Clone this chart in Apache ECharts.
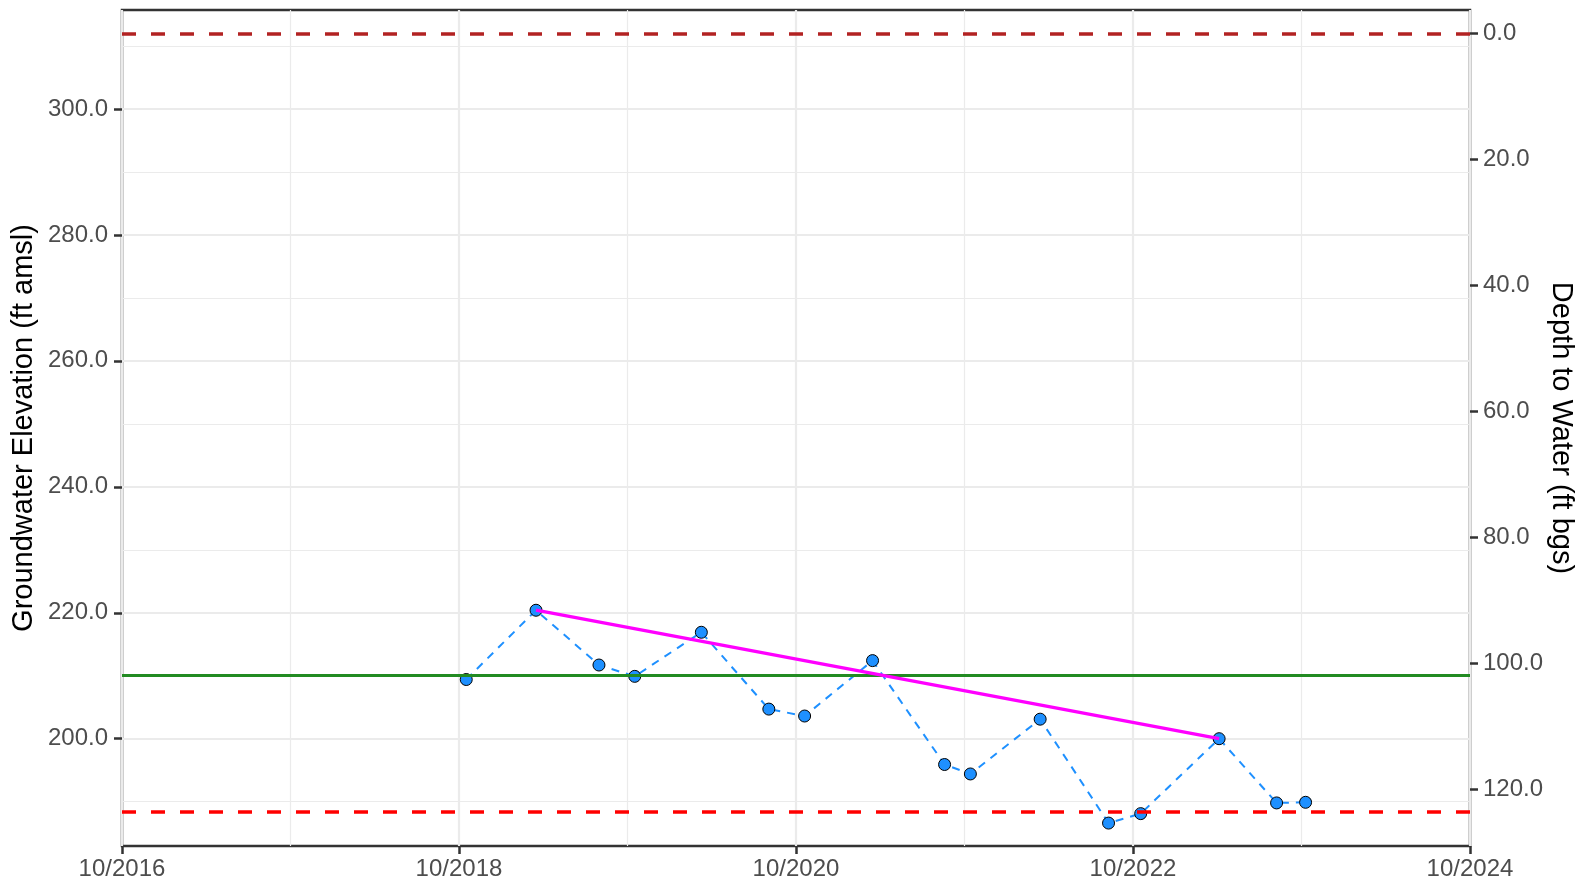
<!DOCTYPE html>
<html>
<head>
<meta charset="utf-8">
<script src="https://cdn.jsdelivr.net/npm/echarts@6/dist/echarts.min.js"></script>
<style>
  html, body { margin: 0; padding: 0; background: #fff; }
  #chart { width: 1579px; height: 886px; }
</style>
</head>
<body>
<div id="chart"></div>
<script>
// measured groundwater levels
const sampleDates = [
  '2018-10-17', '2019-03-16', '2019-07-31', '2019-10-17', '2020-03-09', '2020-08-03',
  '2020-10-20', '2021-03-15', '2021-08-19', '2021-10-14', '2022-03-13', '2022-08-09',
  '2022-10-18', '2023-04-05', '2023-08-08', '2023-10-10'
];
const elevations = [
  209.4, 220.4, 211.7, 209.9, 216.9, 204.7,
  203.6, 212.4, 195.9, 194.4, 203.1, 186.6,
  188.1, 200.0, 189.8, 189.9
];

// trend line (start / end)
const trendDates = ['2019-03-16', '2023-04-05'];
const trendValues = [220.4, 200.0];

// reference lines (ft amsl)
const groundSurface = 312.0;
const minThreshold = 188.4;
const objective = 210.0;

// axes
const elevMin = 182.96;
const elevMax = 315.72;
const elevTicks = [200, 220, 240, 260, 280, 300];
const depthTicks = [0, 20, 40, 60, 80, 100, 120];
const xTickLabels = ['10/2016', '10/2018', '10/2020', '10/2022', '10/2024'];

const FONT = '"Liberation Sans", Arial, sans-serif';
const LABEL_COLOR = '#4d4d4d';

// months since 10/2016
function toMonths(s) {
  const [y, m, d] = s.split('-').map(Number);
  const dim = new Date(y, m, 0).getDate();
  return (y - 2016) * 12 + (m - 10) + (d - 1) / dim;
}

const obsData = sampleDates.map((d, i) => [toMonths(d), elevations[i]]);
const trendData = trendDates.map((d, i) => [toMonths(d), trendValues[i]]);

const isStep = (v, step) => Math.abs(v / step - Math.round(v / step)) < 1e-6;

const chart = echarts.init(document.getElementById('chart'));

const tickStyle = { color: '#333333', width: 2.5 };

chart.setOption({
  animation: false,
  grid: {
    left: 122, right: 109, top: 10, bottom: 40,
    outerBoundsMode: 'none',
    containLabel: false,
    show: true,
    borderColor: '#333333',
    borderWidth: 2.5,
    backgroundColor: 'transparent'
  },
  xAxis: {
    type: 'value',
    min: 0,
    max: 96,
    interval: 24,
    axisLine: { show: false, onZero: false },
    axisTick: { show: true, length: 8, lineStyle: tickStyle },
    axisLabel: {
      margin: 11,
      fontFamily: FONT,
      fontSize: 24,
      color: LABEL_COLOR,
      formatter: v => xTickLabels[Math.round(v / 24)]
    },
    splitLine: { show: true, lineStyle: { color: '#ebebeb', width: 2.2 } },
    minorTick: { show: false, splitNumber: 2 },
    minorSplitLine: { show: true, lineStyle: { color: '#ebebeb', width: 1.2 } }
  },
  yAxis: [
    {
      type: 'value',
      position: 'left',
      min: elevMin,
      max: elevMax,
      minInterval: 20,
      maxInterval: 20,
      name: 'Groundwater Elevation (ft amsl)',
      nameLocation: 'middle',
      nameRotate: 90,
      nameGap: 84,
      nameMoveOverlap: false,
      nameTextStyle: { fontFamily: FONT, fontSize: 29, color: '#000' },
      axisLine: { show: false, onZero: false },
      axisTick: { show: true, length: 8, customValues: elevTicks, lineStyle: tickStyle },
      axisLabel: {
        margin: 14,
        customValues: elevTicks,
        fontFamily: FONT,
        fontSize: 24,
        color: LABEL_COLOR,
        formatter: v => isStep(v, 20) ? v.toFixed(1) : ''
      },
      splitLine: { show: true, lineStyle: { color: '#ebebeb', width: 2.2 } },
      minorTick: { show: false, splitNumber: 2 },
      minorSplitLine: { show: true, lineStyle: { color: '#ebebeb', width: 1.2 } }
    },
    {
      type: 'value',
      position: 'right',
      inverse: true,
      min: groundSurface - elevMax,
      max: groundSurface - elevMin,
      minInterval: 20,
      maxInterval: 20,
      name: 'Depth to Water (ft bgs)',
      nameLocation: 'middle',
      nameRotate: -90,
      nameGap: 76,
      nameMoveOverlap: false,
      nameTextStyle: { fontFamily: FONT, fontSize: 29, color: '#000' },
      axisLine: { show: false, onZero: false },
      axisTick: { show: true, length: 8, customValues: depthTicks, lineStyle: tickStyle },
      axisLabel: {
        margin: 13,
        customValues: depthTicks,
        fontFamily: FONT,
        fontSize: 24,
        color: LABEL_COLOR,
        formatter: v => isStep(v, 20) ? v.toFixed(1) : ''
      },
      splitLine: { show: false }
    }
  ],
  series: [
    {
      name: 'Observed',
      type: 'line',
      data: obsData,
      z: 2,
      symbol: 'circle',
      symbolSize: 12,
      showAllSymbol: true,
      lineStyle: { color: '#1E90FF', width: 2, type: [8, 7] },
      itemStyle: { color: '#1E90FF', borderColor: '#000', borderWidth: 1 },
      emphasis: { disabled: true }
    },
    {
      name: 'Reference',
      type: 'line',
      data: [],
      z: 4,
      silent: true,
      markLine: {
        silent: true,
        symbol: ['none', 'none'],
        label: { show: false },
        animation: false,
        data: [
          { yAxis: groundSurface, lineStyle: { color: '#B22222', width: 3.5, type: [14, 15] } },
          { yAxis: minThreshold, lineStyle: { color: '#FF0000', width: 3.5, type: [14, 15] } },
          { yAxis: objective, lineStyle: { color: '#228B22', width: 3.2, type: 'solid' } }
        ]
      }
    },
    {
      name: 'Trend',
      type: 'line',
      data: trendData,
      z: 5,
      symbol: 'none',
      lineStyle: { color: '#FF00FF', width: 3.3 },
      emphasis: { disabled: true }
    }
  ]
});
</script>
</body>
</html>
